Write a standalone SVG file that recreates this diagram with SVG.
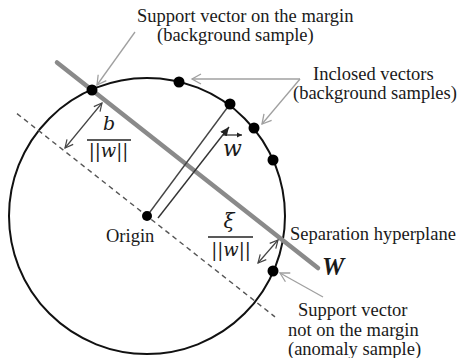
<svg xmlns="http://www.w3.org/2000/svg" width="460" height="358" viewBox="0 0 460 358">
<defs>
<marker id="openG" markerWidth="12" markerHeight="12" refX="10" refY="6" orient="auto" markerUnits="userSpaceOnUse"><path d="M1,1 L10,6 L1,11" fill="none" stroke="#a0a0a0" stroke-width="1.3"/></marker>
<marker id="openD" markerWidth="10" markerHeight="10" refX="9" refY="5" orient="auto-start-reverse" markerUnits="userSpaceOnUse"><path d="M1,1 L9,5 L1,9" fill="none" stroke="#444" stroke-width="1.2"/></marker>
<marker id="solid" markerWidth="10" markerHeight="10" refX="9" refY="5" orient="auto" markerUnits="userSpaceOnUse"><path d="M0,1 L9,5 L0,9 Z" fill="#222"/></marker>
<marker id="tiny" markerWidth="6" markerHeight="6" refX="5" refY="3" orient="auto" markerUnits="userSpaceOnUse"><path d="M0,0.5 L5,3 L0,5.5 Z" fill="#222"/></marker>
</defs>
<style>
.t{font-family:"Liberation Serif","Times New Roman",serif;font-size:18.5px;fill:#1a1a1a}
.m{font-family:"DejaVu Serif","Liberation Serif",serif;font-style:italic;fill:#1a1a1a}
.u{font-style:normal}
.ptr{stroke:#a0a0a0;stroke-width:1.3;fill:none}
.dbl{stroke:#444;stroke-width:1.2;fill:none}
.dot{fill:#000}
</style>
<rect width="460" height="358" fill="#fff"/>
<g id="circle"><circle cx="147" cy="216" r="138" fill="none" stroke="#111" stroke-width="2"/></g>
<g id="margin-line"><line x1="17" y1="113.6" x2="275" y2="316.9" stroke="#555" stroke-width="1.4" stroke-dasharray="5,4"/></g>
<g id="hyperplane"><line x1="57" y1="62.4" x2="318" y2="268" stroke="#8a8a8a" stroke-width="4.5" stroke-linecap="round"/></g>
<g id="connectors">
<line class="ptr" x1="135" y1="32" x2="97" y2="85" marker-end="url(#openG)"/>
<polyline class="ptr" points="300,79 192,79"  marker-end="url(#openG)"/>
<line class="ptr" x1="300" y1="79" x2="262" y2="124" marker-end="url(#openG)"/>
<line class="ptr" x1="323" y1="297" x2="280" y2="273" marker-end="url(#openG)"/>
<line class="dbl" x1="102" y1="103" x2="65" y2="148" marker-start="url(#openD)" marker-end="url(#openD)"/>
<line class="dbl" x1="278" y1="240" x2="258" y2="263" marker-start="url(#openD)" marker-end="url(#openD)"/>
<line x1="147" y1="216" x2="230" y2="104" stroke="#444" stroke-width="1.4"/>
<line x1="158" y1="218" x2="229" y2="127" stroke="#333" stroke-width="1.4" marker-end="url(#solid)"/>
</g>
<g id="origin"><circle class="dot" cx="147" cy="216" r="5"/><text class="t" x="106" y="242">Origin</text></g>
<g id="sv-margin"><circle class="dot" cx="92" cy="90" r="5.5"/></g>
<g id="inclosed">
<circle class="dot" cx="179" cy="82" r="5.5"/>
<circle class="dot" cx="230" cy="104" r="5.5"/>
<circle class="dot" cx="254" cy="128" r="5.5"/>
<circle class="dot" cx="273" cy="160" r="5.5"/>
</g>
<g id="sv-anomaly"><circle class="dot" cx="273" cy="271" r="5.5"/></g>
<g id="label-sv-margin"><text class="t" x="137" y="22">Support vector on the margin</text><text class="t" x="157" y="41">(background sample)</text></g>
<g id="label-inclosed"><text class="t" x="313" y="80">Inclosed vectors</text><text class="t" x="293" y="99">(background samples)</text></g>
<g id="label-hyperplane"><text class="t" x="290" y="240">Separation hyperplane</text>
<text x="322" y="275" style="font-family:'Liberation Serif',serif;font-style:italic;font-weight:bold;font-size:25px;fill:#1a1a1a">W</text></g>
<g id="label-sv-anomaly"><text class="t" x="298" y="316">Support vector</text><text class="t" x="288" y="336">not on the margin</text><text class="t" x="288" y="355">(anomaly sample)</text></g>
<g id="label-b">
<text class="m" x="109" y="130" font-size="19" text-anchor="middle">b</text>
<line x1="87" y1="140" x2="131" y2="140" stroke="#222" stroke-width="1.5"/>
<text class="m" x="108.5" y="157" font-size="18" text-anchor="middle"><tspan class="u">||</tspan>w<tspan class="u">||</tspan></text>
</g>
<g id="label-xi">
<text class="m" x="229" y="228" font-size="20" text-anchor="middle">ξ</text>
<line x1="208" y1="237" x2="253" y2="237" stroke="#222" stroke-width="1.5"/>
<text class="m" x="231" y="256" font-size="18" text-anchor="middle"><tspan class="u">||</tspan>w<tspan class="u">||</tspan></text>
</g>
<g id="label-w">
<text class="m" x="232.5" y="156" font-size="22" text-anchor="middle">w</text>
<line x1="223" y1="135" x2="242" y2="135" stroke="#222" stroke-width="1.2" marker-end="url(#tiny)"/>
</g>
</svg>
